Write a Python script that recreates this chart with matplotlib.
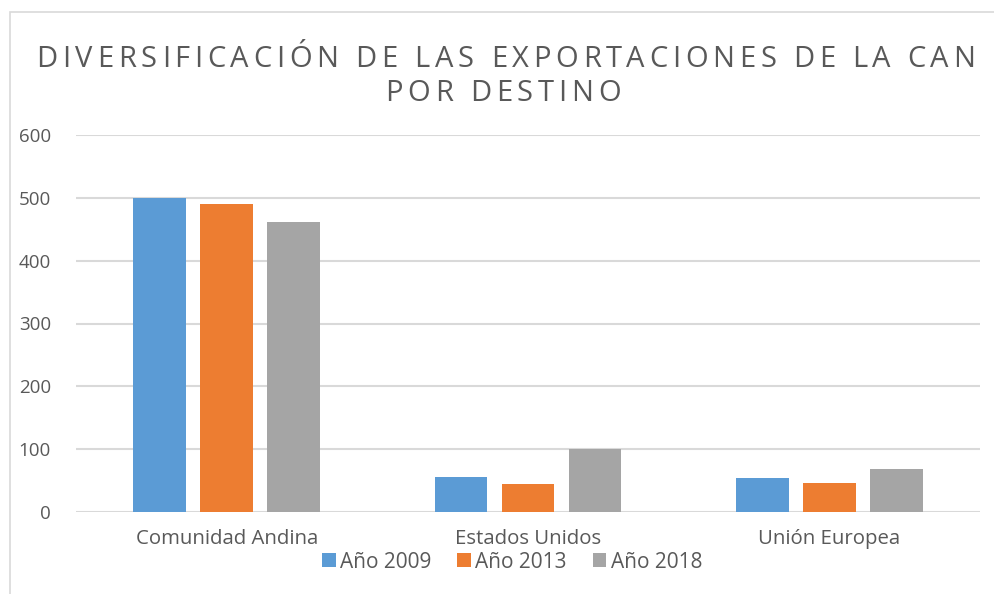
import matplotlib.pyplot as plt
import numpy as np
from matplotlib.patches import Rectangle
from matplotlib.font_manager import FontProperties

# ------------ DATA ------------
categories = ["Comunidad Andina", "Estados Unidos", "Unión Europea"]
series_names = ["Año 2009", "Año 2013", "Año 2018"]
values_2009 = [500, 55, 54]
values_2013 = [490, 44, 46]
values_2018 = [461, 101, 68]
yticks = [0, 100, 200, 300, 400, 500, 600]
title_lines = ["DIVERSIFICACIÓN DE LAS EXPORTACIONES DE LA CAN", "POR DESTINO"]

colors = ["#5B9BD5", "#ED7D31", "#A5A5A5"]
text_color = "#595959"

plt.rcParams["font.family"] = ["Open Sans", "DejaVu Sans"]

W, H = 994, 594
fig = plt.figure(figsize=(W / 100, H / 100), dpi=100)
ax = fig.add_axes([76 / W, 1 - 512 / H, 904 / W, 377 / H])

x = np.arange(len(categories))
width = 0.1745
step = 0.222
for i, (vals, name) in enumerate(zip([values_2009, values_2013, values_2018], series_names)):
    ax.bar(x + (i - 1) * step, vals, width, color=colors[i], label=name, zorder=3)

ax.set_xlim(-0.5, 2.5)
ax.set_ylim(0, 600)
ax.set_yticks(yticks)
ax.set_xticks(x)
ax.set_xticklabels(categories, fontsize=14.7)
ax.grid(axis="y", color="#D9D9D9", linewidth=1.5, zorder=0)
for s in ax.spines.values():
    s.set_visible(False)
ax.tick_params(axis="both", length=0, colors=text_color)
ax.tick_params(axis="y", labelsize=13.5, pad=18)
ax.tick_params(axis="x", pad=12)


# ------------ TITLE (letter-spaced, like the Excel one) ------------
def spaced_line(text, xc, y_base, size, spacing):
    renderer = fig.canvas.get_renderer()
    prop = FontProperties(family=["Open Sans", "DejaVu Sans"], size=size)
    hh = renderer.get_text_width_height_descent("HH", prop, ismath=False)[0]
    adv = [renderer.get_text_width_height_descent("H" + c + "H", prop, ismath=False)[0] - hh
           for c in text]
    total = sum(adv) + spacing * (len(text) - 1)
    xpos = xc - total / 2
    for c, a in zip(text, adv):
        fig.text(xpos / W, 1 - y_base / H, c, ha="left", va="baseline",
                 fontproperties=prop, color=text_color)
        xpos += a + spacing
    return total


title_size = 21
spaced_line(title_lines[0], 506, 67, title_size, 4.7)
spaced_line(title_lines[1], 503, 101, title_size, 4.7)

ax.legend(loc="center", bbox_to_anchor=(512 / W, 1 - 562 / H),
          bbox_transform=fig.transFigure, ncol=3, frameon=False,
          fontsize=15, handlelength=0.66, handleheight=0.66,
          handletextpad=0.2, columnspacing=1.25, labelcolor=text_color,
          borderpad=0, borderaxespad=0)

# chart border
fig.patches.append(Rectangle((10 / W, -0.1), 1.2, 1 - 12 / H + 0.1,
                             transform=fig.transFigure, fill=False,
                             edgecolor="#D9D9D9", linewidth=1.2))

fig.savefig("out.png", dpi=100)
